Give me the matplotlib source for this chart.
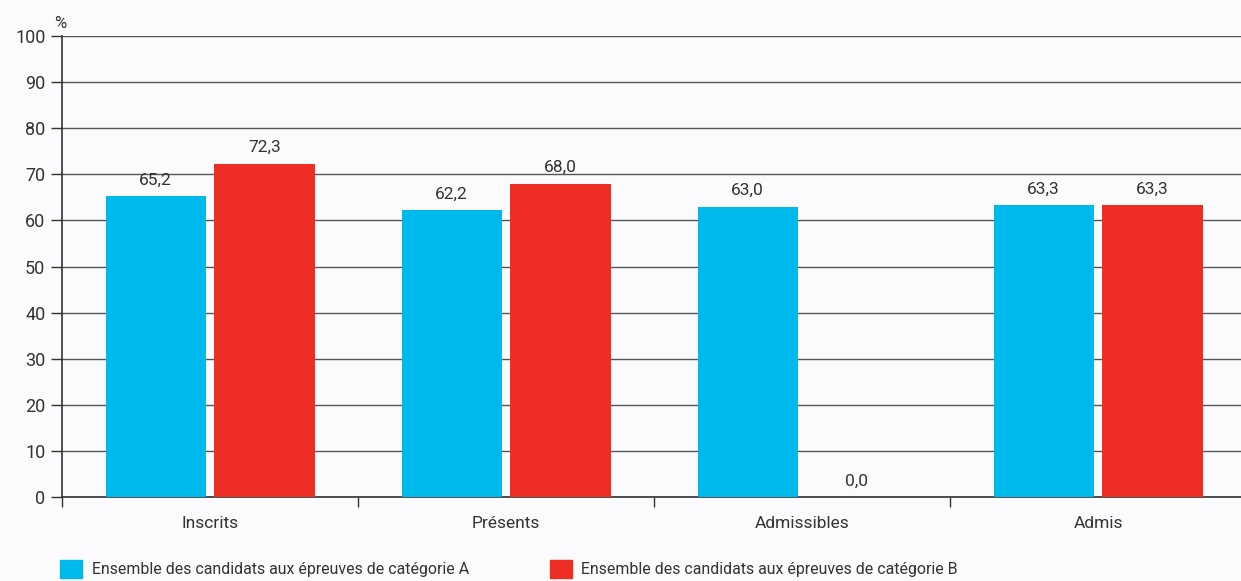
import matplotlib.pyplot as plt
from matplotlib.patches import Patch

plt.rcParams['font.family'] = ['Roboto', 'DejaVu Sans']

categories = ['Inscrits', 'Présents', 'Admissibles', 'Admis']
cat_a = [65.2, 62.2, 63.0, 63.3]
cat_b = [72.3, 68.0, 0.0, 63.3]
series_names = ['Ensemble des candidats aux épreuves de catégorie A',
                'Ensemble des candidats aux épreuves de catégorie B']
yticks = [0, 10, 20, 30, 40, 50, 60, 70, 80, 90, 100]

col_a = '#00b9ec'
col_b = '#ee2e24'
bg = '#fbfbfd'
txt = '#333333'

fig = plt.figure(figsize=(12.41, 5.81), dpi=100, facecolor=bg)
ax = fig.add_axes([0.05, 0.1446, 0.95, 0.7934], facecolor=bg)

x = range(len(categories))
w = 0.338
off = 0.184
ax.bar([i - off for i in x], cat_a, w, color=col_a, zorder=3)
ax.bar([i + off for i in x], cat_b, w, color=col_b, zorder=3)

for i in x:
    ax.text(i - off, cat_a[i] + 2.5, f'{cat_a[i]:.1f}'.replace('.', ','),
            ha='center', va='baseline', fontsize=12.5, color=txt)
    ax.text(i + off, cat_b[i] + 2.5, f'{cat_b[i]:.1f}'.replace('.', ','),
            ha='center', va='baseline', fontsize=12.5, color=txt)

ax.set_ylim(0, 100)
ax.set_xlim(-0.5, 3.483)
ax.set_yticks(yticks)
ax.set_yticklabels([str(v) for v in yticks], fontsize=13, color=txt)
ax.yaxis.grid(True, color='#555555', linewidth=1, zorder=0)
ax.set_axisbelow(True)

ax.set_xticks(list(x))
ax.set_xticklabels(categories, fontsize=12.5, color=txt)
ax.set_xticks([-0.5, 0.5, 1.5, 2.5], minor=True)
ax.tick_params(axis='x', which='major', length=0, pad=14)
ax.tick_params(axis='x', which='minor', length=7, width=1, color='#333333')
ax.tick_params(axis='y', length=8, width=1, color='#333333', pad=4)

for s in ['top', 'right']:
    ax.spines[s].set_visible(False)
ax.spines['left'].set_color('#333333')
ax.spines['bottom'].set_color('#333333')
ax.spines['left'].set_linewidth(1.2)
ax.spines['bottom'].set_linewidth(1.2)

fig.text(0.044, 0.96, '%', fontsize=12, color=txt, ha='left', va='center')

handles = [Patch(color=col_a), Patch(color=col_b)]
fig.legend(handles, series_names, loc='lower left', bbox_to_anchor=(0.037, -0.02),
           ncol=2, frameon=False, fontsize=11.4, handlelength=1.4, handleheight=1.4,
           handletextpad=0.6, columnspacing=5.1, labelcolor=txt)

fig.savefig('out.png', dpi=100, facecolor=bg)
